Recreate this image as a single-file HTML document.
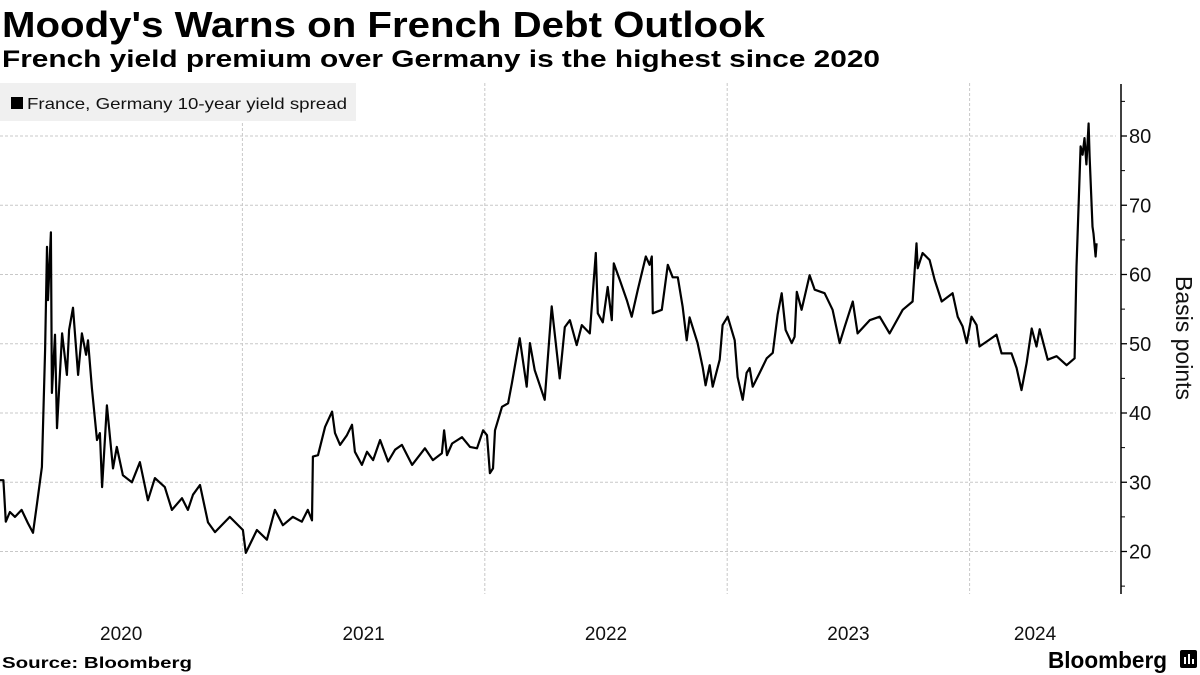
<!DOCTYPE html>
<html><head><meta charset="utf-8"><style>
html,body{margin:0;padding:0;background:#fff;}
svg{display:block;font-family:"Liberation Sans",sans-serif;}
</style></head><body>
<svg id="chart" width="1200" height="675" viewBox="0 0 1200 675" xmlns="http://www.w3.org/2000/svg">
<text x="2" y="37" font-size="36" font-weight="bold" textLength="763" lengthAdjust="spacingAndGlyphs">Moody's Warns on French Debt Outlook</text>
<text x="2" y="67" font-size="24" font-weight="bold" textLength="878" lengthAdjust="spacingAndGlyphs">French yield premium over Germany is the highest since 2020</text>
<g id="grid"></g>
<g>
<rect x="0" y="83" width="356" height="38" fill="#f0f0f0"/>
<rect x="11" y="97" width="12" height="12" fill="#000"/>
<text x="27" y="109" font-size="16" textLength="320" lengthAdjust="spacingAndGlyphs" fill="#111">France, Germany 10-year yield spread</text>
</g>
<g id="series"></g>
<g id="axis"></g>
<g id="xaxis"></g>
<text transform="translate(1176,338) rotate(90)" text-anchor="middle" font-size="23" fill="#111">Basis points</text>
<text x="2" y="668" font-size="16" font-weight="bold" textLength="190" lengthAdjust="spacingAndGlyphs">Source: Bloomberg</text>
<text x="1048" y="668" font-size="23" font-weight="bold" textLength="119" lengthAdjust="spacingAndGlyphs">Bloomberg</text>
<g>
<rect x="1180" y="650" width="17" height="18" rx="2" fill="#000"/>
<rect x="1184" y="657" width="2" height="7" fill="#fff"/><rect x="1188" y="654" width="2" height="10" fill="#fff"/><rect x="1192" y="659" width="2" height="5" fill="#fff"/>
</g>
</svg>
<script>
// dates as years since 2020-01-01
var dates=[0,.014,.024,.041,.062,.089,.115,.136,.153,.173,.186,.194,.198,.210,.214,.227,.235,.256,.276,.285,.301,.322,.338,.355,.363,.379,.400,.412,.421,.441,.466,.482,.507,.544,.577,.610,.639,.680,.709,.751,.775,.796,.825,.858,.887,.948,1.002,1.014,1.060,1.101,1.134,1.167,1.208,1.245,1.270,1.287,1.291,1.312,1.341,1.370,1.382,1.403,1.431,1.452,1.464,1.493,1.514,1.539,1.568,1.601,1.630,1.658,1.700,1.753,1.786,1.823,1.832,1.844,1.865,1.906,1.939,1.968,1.993,2.009,2.021,2.034,2.042,2.071,2.096,2.112,2.144,2.173,2.186,2.206,2.247,2.276,2.309,2.330,2.351,2.379,2.400,2.433,2.458,2.466,2.487,2.507,2.524,2.532,2.557,2.586,2.606,2.631,2.664,2.680,2.689,2.693,2.730,2.755,2.775,2.796,2.816,2.833,2.845,2.878,2.899,2.911,2.928,2.940,2.969,2.981,3.002,3.031,3.043,3.064,3.080,3.093,3.105,3.134,3.163,3.188,3.208,3.225,3.241,3.266,3.278,3.287,3.307,3.340,3.361,3.402,3.435,3.464,3.485,3.518,3.538,3.588,3.629,3.670,3.724,3.765,3.781,3.786,3.806,3.835,3.856,3.885,3.930,3.951,3.971,3.988,4.008,4.029,4.041,4.082,4.111,4.132,4.173,4.194,4.214,4.235,4.256,4.276,4.289,4.322,4.359,4.400,4.433,4.441,4.458,4.466,4.474,4.482,4.491,4.495,4.507,4.511,4.520,4.524];
var spread=[30.3,30.3,24.3,25.7,25.0,26.0,24.1,22.7,27.0,32.2,49.1,64.0,56.3,66.1,42.9,51.3,37.8,51.5,45.5,52.0,55.2,45.5,51.5,48.4,50.5,43.6,36.1,37.1,29.3,41.1,32.0,35.1,31.0,30.0,32.9,27.4,30.6,29.3,26.0,27.7,26.0,28.2,29.6,24.2,22.8,25.0,23.1,19.8,23.1,21.7,26.0,23.8,25.0,24.3,26.0,24.5,33.7,33.9,38.0,40.2,37.1,35.4,36.8,38.3,34.4,32.5,34.4,33.2,36.1,33.0,34.7,35.4,32.5,34.9,33.2,34.2,37.5,33.9,35.6,36.5,35.1,34.9,37.5,36.8,31.3,32.0,37.5,40.9,41.4,44.3,50.8,43.8,50.1,46.2,41.9,55.4,45.0,52.4,53.4,49.8,52.7,51.5,63.1,54.4,53.1,58.2,53.4,61.6,59.2,56.3,53.9,57.8,62.6,61.4,62.6,54.4,54.9,61.4,59.6,59.6,55.4,50.5,53.8,50.1,46.6,44.0,46.9,43.8,47.7,52.7,53.9,50.5,45.2,41.9,45.8,46.5,43.8,45.8,47.9,48.7,54.2,57.3,52.0,50.1,51.0,57.5,54.9,59.9,57.8,57.3,54.9,50.1,52.5,56.1,51.5,53.4,53.9,51.5,54.9,56.1,64.5,60.9,63.1,62.1,59.2,56.1,57.3,53.9,52.5,50.1,53.9,52.7,49.6,50.6,51.3,48.6,48.6,46.5,43.3,47.2,52.2,49.6,52.1,47.7,48.2,46.9,47.9,61.1,78.5,77.3,79.7,75.9,81.8,77.1,66.9,65.9,62.6,64.5];
var yTicks=[20,30,40,50,60,70,80];
var yMinor=[15,25,35,45,55,65,75,85];
var xLabels=["2020","2021","2022","2023","2024"];
var xLabelPos=[0.5,1.5,2.5,3.5,4.27];
var yearLines=[1,2,3,4];

var NS="http://www.w3.org/2000/svg";
function X(t){return t*242.4;}
function Y(v){return 136+(80-v)*6.925;}
function mk(tag,attrs,parent){var e=document.createElementNS(NS,tag);for(var k in attrs)e.setAttribute(k,attrs[k]);parent.appendChild(e);return e;}
var grid=document.getElementById('grid'),axis=document.getElementById('axis'),xaxis=document.getElementById('xaxis'),series=document.getElementById('series');
yTicks.forEach(function(v){
  var l=mk('line',{x1:0,x2:1116,y1:Y(v),y2:Y(v),stroke:'#c8c8c8','stroke-width':1,'stroke-dasharray':'3,2'},grid);
  
  
  var tk=mk('line',{x1:1121,x2:1127,y1:Y(v),y2:Y(v),stroke:'#000','stroke-width':1.3},axis);
  
  
  var tx=mk('text',{x:1129,y:Y(v)+7,'font-size':20,fill:'#111'},axis);
  tx.textContent=v;
  
  
});
yMinor.forEach(function(v){
  var tk=mk('line',{x1:1121,x2:1125,y1:Y(v),y2:Y(v),stroke:'#000','stroke-width':1},axis);
  
  
});
var ax=mk('line',{x1:1121,x2:1121,y1:84,y2:594,stroke:'#000','stroke-width':1.5},axis);


yearLines.forEach(function(t){
  var l=mk('line',{x1:X(t),x2:X(t),y1:83,y2:594,stroke:'#c8c8c8','stroke-width':1,'stroke-dasharray':'3,2'},grid);
  
  
});
xLabels.forEach(function(s,i){
  var tx=mk('text',{x:X(xLabelPos[i]),y:640,'font-size':19,fill:'#111','text-anchor':'middle'},xaxis);
  tx.textContent=s;
  
  
});
var d=dates.map(function(t,i){return (i?'L':'M')+X(t).toFixed(1)+','+Y(spread[i]).toFixed(1);}).join('');
var p=mk('path',{d:d,fill:'none',stroke:'#000','stroke-width':2.2,'stroke-linejoin':'round'},series);


</script>
</body></html>
